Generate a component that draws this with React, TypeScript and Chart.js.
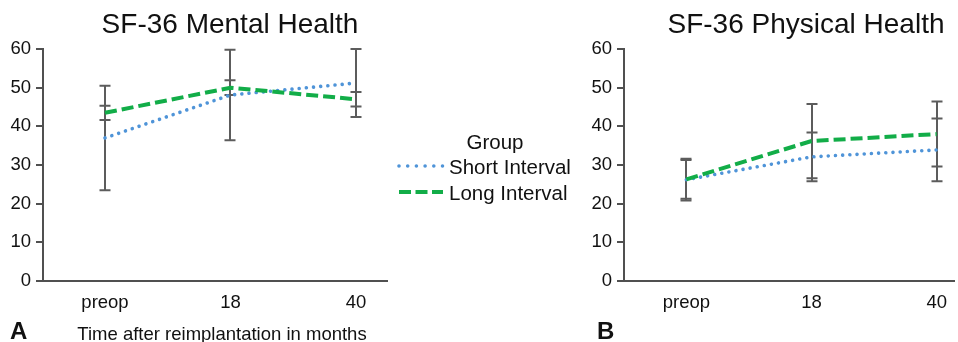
import React, { useEffect, useRef } from "react";
import { Chart, registerables } from "chart.js";

Chart.register(...registerables);

// ---------- data ----------
const categories = ["preop", "18", "40"];
const seriesNames = ["Short Interval", "Long Interval"];

const mentalShort = [37.0, 48.1, 51.2];
const mentalShortErr = [13.5, 11.7, 8.8];
const mentalLong = [43.5, 50.0, 47.0];
const mentalLongErr = [1.85, 1.9, 1.85];

const physicalShort = [26.2, 32.1, 33.9];
const physicalShortErr = [5.4, 6.3, 8.1];
const physicalLong = [26.3, 36.2, 38.0];
const physicalLongErr = [5.0, 9.6, 8.4];

const yTickValues = [0, 10, 20, 30, 40, 50, 60];
const panelTitles = ["SF-36 Mental Health", "SF-36 Physical Health"];
const panelLetters = ["A", "B"];
const xAxisTitle = "Time after reimplantation in months";
const legendTitle = "Group";

// ---------- styles ----------
const FONT = "'Liberation Sans', Arial, Helvetica, sans-serif";
const SHORT_COLOR = "#4f94d8";
const LONG_COLOR = "#12ad48";
const AXIS_COLOR = "#505050";
const ERR_COLOR = "#5c5c5c";

type PanelText = {
  title: string;
  titleX: number;
  letter: string;
  letterX: number;
  axisTitle?: string;
  axisTitleX?: number;
  legend?: boolean;
};

const errorBarPlugin = {
  id: "errorBars",
  beforeDatasetsDraw(chart: any) {
    const { ctx } = chart;
    const xs = chart.scales.x;
    const ys = chart.scales.y;
    ctx.save();
    ctx.strokeStyle = ERR_COLOR;
    ctx.lineWidth = 2;
    ctx.lineCap = "butt";
    chart.data.datasets.forEach((ds: any) => {
      ds.data.forEach((pt: any, i: number) => {
        const e = ds.errors[i];
        const px = Math.round(xs.getPixelForValue(pt.x));
        const top = ys.getPixelForValue(pt.y + e);
        const bot = ys.getPixelForValue(pt.y - e);
        const hw = 5.5;
        ctx.beginPath();
        ctx.moveTo(px, top);
        ctx.lineTo(px, bot);
        ctx.moveTo(px - hw, top);
        ctx.lineTo(px + hw, top);
        ctx.moveTo(px - hw, bot);
        ctx.lineTo(px + hw, bot);
        ctx.stroke();
      });
    });
    ctx.restore();
  },
};

const panelTextPlugin = {
  id: "panelText",
  afterDraw(chart: any, _args: any, opts: PanelText) {
    const { ctx } = chart;
    ctx.save();
    ctx.fillStyle = "#111111";
    ctx.textBaseline = "alphabetic";
    // title
    ctx.font = `28px ${FONT}`;
    ctx.textAlign = "center";
    ctx.fillText(opts.title, opts.titleX, 33);
    // panel letter
    ctx.font = `bold 24px ${FONT}`;
    ctx.textAlign = "left";
    ctx.fillText(opts.letter, opts.letterX, 339);
    // axis title
    if (opts.axisTitle) {
      ctx.font = `18.5px ${FONT}`;
      ctx.textAlign = "center";
      ctx.fillText(opts.axisTitle, opts.axisTitleX as number, 340);
    }
    // legend
    if (opts.legend) {
      ctx.font = `20.5px ${FONT}`;
      ctx.textAlign = "center";
      ctx.fillText(legendTitle, 495, 149);
      chart.data.datasets.forEach((ds: any, i: number) => {
        const yy = 166 + i * 26;
        ctx.save();
        ctx.strokeStyle = ds.borderColor;
        ctx.lineWidth = ds.borderWidth;
        ctx.lineCap = ds.borderCapStyle || "butt";
        ctx.setLineDash(ds.legendDash || ds.borderDash || []);
        ctx.beginPath();
        ctx.moveTo(399, yy);
        ctx.lineTo(443, yy);
        ctx.stroke();
        ctx.restore();
        ctx.fillStyle = "#111111";
        ctx.textAlign = "left";
        ctx.fillText(ds.label, 449, yy + 8);
      });
    }
    ctx.restore();
  },
};

function buildConfig(
  shortVals: number[],
  shortErr: number[],
  longVals: number[],
  longErr: number[],
  xMin: number,
  xMax: number,
  padRight: number,
  text: PanelText
): any {
  const toPts = (vals: number[]) => vals.map((v, i) => ({ x: i, y: v }));
  return {
    type: "line",
    data: {
      datasets: [
        {
          label: seriesNames[0],
          data: toPts(shortVals),
          errors: shortErr,
          borderColor: SHORT_COLOR,
          borderWidth: 3.6,
          borderDash: [0.001, 7.2],
          legendDash: [0.001, 8.7],
          borderCapStyle: "round",
          pointRadius: 0,
          tension: 0,
          fill: false,
          order: 1,
        },
        {
          label: seriesNames[1],
          data: toPts(longVals),
          errors: longErr,
          borderColor: LONG_COLOR,
          borderWidth: 4,
          borderDash: [12, 5],
          legendDash: [12, 4.5],
          borderCapStyle: "butt",
          pointRadius: 0,
          tension: 0,
          fill: false,
          order: 0,
        },
      ],
    },
    options: {
      responsive: false,
      animation: false,
      events: [],
      layout: { padding: { top: 49, left: 0, right: padRight, bottom: 0 } },
      plugins: {
        legend: { display: false },
        title: { display: false },
        tooltip: { enabled: false },
        panelText: text,
      },
      scales: {
        x: {
          type: "linear",
          min: xMin,
          max: xMax,
          afterFit: (s: any) => {
            s.height = 61;
          },
          afterBuildTicks: (s: any) => {
            s.ticks = categories.map((_, i) => ({ value: i }));
          },
          grid: { display: false, drawTicks: false },
          border: { display: true, color: AXIS_COLOR, width: 2 },
          ticks: {
            padding: 11,
            color: "#111111",
            font: { family: FONT, size: 18.5 },
            callback: (v: number) => categories[v] ?? "",
            maxRotation: 0,
          },
        },
        y: {
          type: "linear",
          min: 0,
          max: 60,
          afterFit: (s: any) => {
            s.width = 43;
          },
          afterBuildTicks: (s: any) => {
            s.ticks = yTickValues.map((v) => ({ value: v }));
          },
          grid: {
            display: true,
            drawOnChartArea: false,
            drawTicks: true,
            tickLength: 7,
            color: AXIS_COLOR,
            lineWidth: 2,
          },
          border: { display: true, color: AXIS_COLOR, width: 2 },
          ticks: {
            padding: 5,
            color: "#111111",
            font: { family: FONT, size: 18.5 },
          },
        },
      },
    },
    plugins: [errorBarPlugin, panelTextPlugin],
  };
}

export default function App() {
  const leftRef = useRef<HTMLCanvasElement | null>(null);
  const rightRef = useRef<HTMLCanvasElement | null>(null);

  useEffect(() => {
    const left = new Chart(
      leftRef.current as HTMLCanvasElement,
      buildConfig(mentalShort, mentalShortErr, mentalLong, mentalLongErr, -0.494, 2.247, 194, {
        title: panelTitles[0],
        titleX: 230,
        letter: panelLetters[0],
        letterX: 10,
        axisTitle: xAxisTitle,
        axisTitleX: 222,
        legend: true,
      })
    );
    const right = new Chart(
      rightRef.current as HTMLCanvasElement,
      buildConfig(
        physicalShort,
        physicalShortErr,
        physicalLong,
        physicalLongErr,
        -0.498,
        2.142,
        0,
        {
          title: panelTitles[1],
          titleX: 225,
          letter: panelLetters[1],
          letterX: 16,
        }
      )
    );
    return () => {
      left.destroy();
      right.destroy();
    };
  }, []);

  return (
    <div
      style={{
        position: "absolute",
        left: 0,
        top: 0,
        width: 958,
        height: 342,
        background: "#ffffff",
        overflow: "hidden",
      }}
    >
      <canvas
        ref={leftRef}
        width={581}
        height={342}
        style={{ position: "absolute", left: 0, top: 0, width: 581, height: 342 }}
      />
      <canvas
        ref={rightRef}
        width={377}
        height={342}
        style={{ position: "absolute", left: 581, top: 0, width: 377, height: 342 }}
      />
    </div>
  );
}
